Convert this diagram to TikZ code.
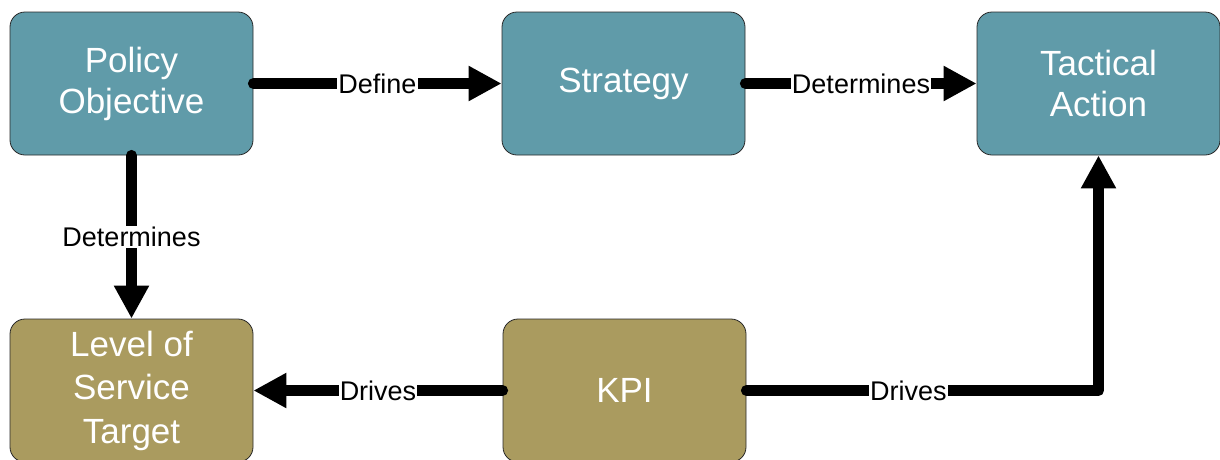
\documentclass[tikz,border=0pt]{standalone}
\usepackage{fontspec}
\setmainfont{Liberation Sans}
\usetikzlibrary{arrows.meta}
\definecolor{tealbox}{RGB}{96,155,169}
\definecolor{olivebox}{RGB}{170,155,95}
\definecolor{edgegray}{RGB}{40,40,40}
\tikzset{
  boxnode/.style={draw=edgegray, line width=0.8pt, rounded corners=15pt, minimum width=243pt, minimum height=143pt, align=center, text=white, font=\fontsize{35}{41}\selectfont, inner sep=0pt},
  conn/.style={line width=11pt, line cap=round, line join=round, -{Triangle[length=33pt,width=33pt]}},
  lbl/.style={fill=white, inner sep=1pt, text=black, font=\fontsize{27}{30}\selectfont}
}
\begin{document}
\begin{tikzpicture}[x=1pt,y=-1pt]
\useasboundingbox (0,0) rectangle (1220,459);
\node[boxnode, fill=tealbox] (po) at (131.5,83.5) {Policy\\Objective};
\node[boxnode, fill=tealbox] (st) at (623.5,83.5) {Strategy};
\node[boxnode, fill=tealbox] (ta) at (1098.5,83.5) {Tactical\\Action};
\node[boxnode, fill=olivebox, font=\fontsize{35}{43.5}\selectfont] (ls) at (131.5,390.5) {Level of\\Service\\Target};
\node[boxnode, fill=olivebox] (kpi) at (624.5,390.5) {KPI};
\draw[conn] (po.east) -- node[lbl] {Define} (st.west);
\draw[conn] (st.east) -- node[lbl] {Determines} (ta.west);
\draw[conn] (po.south) -- node[lbl] {Determines} (ls.north);
\draw[conn] (kpi.west) -- node[lbl] {Drives} (ls.east);
\draw[conn] (kpi.east) -| node[lbl, pos=0.23] {Drives} (ta.south);
\end{tikzpicture}
\end{document}
